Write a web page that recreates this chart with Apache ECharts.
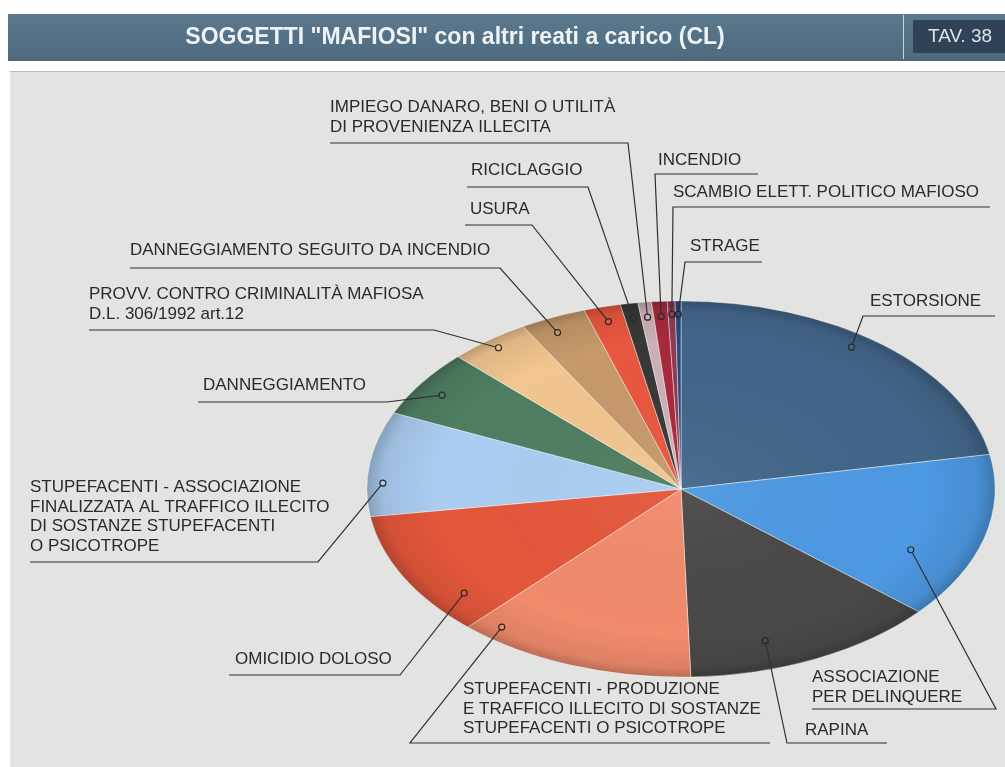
<!DOCTYPE html>
<html><head><meta charset="utf-8">
<script src="https://cdn.jsdelivr.net/npm/echarts@6/dist/echarts.min.js"></script>
<style>html,body{margin:0;padding:0;background:#fff}#c{width:1005px;height:767px}</style>
</head><body><div id="c"></div><script>
// ---- data ----
const titleText = 'SOGGETTI "MAFIOSI" con altri reati a carico (CL)';
const tableText = 'TAV. 38';
const categories = [
  'ESTORSIONE',
  'ASSOCIAZIONE\nPER DELINQUERE',
  'RAPINA',
  'STUPEFACENTI - PRODUZIONE\nE TRAFFICO ILLECITO DI SOSTANZE\nSTUPEFACENTI O PSICOTROPE',
  'OMICIDIO DOLOSO',
  'STUPEFACENTI - ASSOCIAZIONE\nFINALIZZATA AL TRAFFICO ILLECITO\nDI SOSTANZE STUPEFACENTI\nO PSICOTROPE',
  'DANNEGGIAMENTO',
  'PROVV. CONTRO CRIMINALITÀ MAFIOSA\nD.L. 306/1992 art.12',
  'DANNEGGIAMENTO SEGUITO DA INCENDIO',
  'USURA',
  'RICICLAGGIO',
  'IMPIEGO DANARO, BENI O UTILITÀ\nDI PROVENIENZA ILLECITA',
  'INCENDIO',
  'SCAMBIO ELETT. POLITICO MAFIOSO',
  'STRAGE'
];
const values = [221, 143, 132, 124, 108, 90, 58, 42, 34, 19, 9, 7, 8, 4, 3];

// ---- styles / layout ----
const sliceColors = ['#42668a', '#4d99e2', '#4a4948', '#f08b6c', '#e4573b', '#aacdf1', '#4f7e62',
  '#f1c58f', '#c6996a', '#e8573f', '#383838', '#cdb0b6', '#a62a3c', '#8e3b55', '#254a7c'];
// text position (left, top), underline x1..x2 at y, side of elbow, dot position [fraction of slice angle, radius fraction]
const labelLayout = [
  {tx: 870, ty: 292, ux1: 863, ux2: 995, uy: 316, side: 'left',  at: [0.45, 0.93]},
  {tx: 812, ty: 668, ux1: 812, ux2: 996, uy: 709, side: 'right', at: [0.67, 0.80]},
  {tx: 805, ty: 721, ux1: 787, ux2: 887, uy: 743, side: 'left',  at: [0.65, 0.85]},
  {tx: 463, ty: 680, ux1: 410, ux2: 770, uy: 743, side: 'left',  at: [0.89, 0.93]},
  {tx: 235, ty: 650, ux1: 229, ux2: 400, uy: 675, side: 'right', at: [0.22, 0.885]},
  {tx: 30,  ty: 478, ux1: 30,  ux2: 318, uy: 562, side: 'right', at: [0.32, 0.95]},
  {tx: 203, ty: 376, ux1: 198, ux2: 387, uy: 402, side: 'right', at: [0.45, 0.91]},
  {tx: 89,  ty: 285, ux1: 89,  ux2: 434, uy: 330, side: 'right', at: [0.5, 0.95]},
  {tx: 130, ty: 241, ux1: 130, ux2: 500, uy: 268, side: 'right', at: [0.4, 0.92]},
  {tx: 470, ty: 200, ux1: 465, ux2: 532, uy: 225, side: 'right', at: [0.5, 0.92]},
  {tx: 471, ty: 161, ux1: 467, ux2: 588, uy: 187, side: 'right', at: [0.5, 0.92]},
  {tx: 330, ty: 98,  ux1: 330, ux2: 628, uy: 143, side: 'right', at: [0.5, 0.92]},
  {tx: 658, ty: 151, ux1: 655, ux2: 758, uy: 174, side: 'left',  at: [0.5, 0.92]},
  {tx: 673, ty: 183, ux1: 673, ux2: 990, uy: 207, side: 'left',  at: [0.5, 0.93]},
  {tx: 690, ty: 237, ux1: 685, ux2: 762, uy: 262, side: 'left',  at: [0.5, 0.93]}
];

const total = values.reduce((a, b) => a + b, 0);
const starts = [];
values.reduce((acc, v, i) => { starts[i] = acc; return acc + v; }, 0);

const labelFont = '17px "Liberation Sans", Arial, sans-serif';

function renderItem(params, api) {
  const i = params.dataIndex;
  const c = api.coord([0, 0]);
  const ex = api.coord([1, 0])[0] - c[0];
  const ey = c[1] - api.coord([0, 1])[1];
  const a0 = starts[i] / total * 2 * Math.PI;
  const a1 = (starts[i] + api.value(0)) / total * 2 * Math.PI;
  const L = labelLayout[i];
  const am = a0 + (a1 - a0) * L.at[0];
  const dot = api.coord([L.at[1] * Math.sin(am), L.at[1] * Math.cos(am)]);
  const shape = {cx: 0, cy: 0, r0: 0, r: ex, startAngle: a0 - Math.PI / 2, endAngle: a1 - Math.PI / 2, clockwise: true};
  const pts = L.side === 'right'
    ? [[L.ux1, L.uy], [L.ux2, L.uy], dot]
    : [[L.ux2, L.uy], [L.ux1, L.uy], dot];
  return {
    type: 'group',
    children: [
      {
        type: 'group', x: c[0], y: c[1], scaleY: ey / ex,
        children: [
          {type: 'sector', shape: shape,
           style: {fill: sliceColors[i], stroke: 'rgba(255,255,255,0.55)', lineWidth: 1, strokeNoScale: true}},
          {type: 'sector', shape: shape, silent: true,
           style: {fill: new echarts.graphic.RadialGradient(0, 0, ex, [
             {offset: 0, color: 'rgba(255,255,255,0.05)'},
             {offset: 0.78, color: 'rgba(0,0,0,0)'},
             {offset: 0.95, color: 'rgba(0,0,0,0.08)'},
             {offset: 1, color: 'rgba(0,0,0,0.22)'}
           ], true)}}
        ]
      },
      {type: 'polyline', z2: 100, shape: {points: pts},
       style: {stroke: '#303030', lineWidth: 1.2, fill: null}},
      {type: 'circle', z2: 101, shape: {cx: dot[0], cy: dot[1], r: 3},
       style: {fill: sliceColors[i], stroke: '#2a2a2a', lineWidth: 1.2}},
      {type: 'text', z2: 100, x: L.tx, y: L.ty,
       style: {text: categories[i], fill: '#2a2a2a', font: labelFont, lineHeight: 19.5,
               align: 'left', verticalAlign: 'top'}}
    ]
  };
}

const chart = echarts.init(document.getElementById('c'), null, {renderer: 'canvas'});
chart.setOption({
  animation: false,
  backgroundColor: '#ffffff',
  graphic: [
    {type: 'rect', z: -10, shape: {x: 10, y: 71, width: 995, height: 696}, style: {fill: '#e3e3e1'}},
    {type: 'line', z: -9, shape: {x1: 10, y1: 71.5, x2: 1005, y2: 71.5}, style: {stroke: '#b9b9b7', lineWidth: 1}},
    {type: 'rect', z: -8, shape: {x: 8, y: 14, width: 997, height: 47},
     style: {fill: new echarts.graphic.LinearGradient(0, 0, 0, 1, [
       {offset: 0, color: '#5b788d'}, {offset: 1, color: '#4f6a7e'}])}},
    {type: 'line', z: -7, shape: {x1: 903.5, y1: 15, x2: 903.5, y2: 59}, style: {stroke: 'rgba(230,238,245,0.8)', lineWidth: 1}},
    {type: 'rect', z: -7, shape: {x: 913, y: 20, width: 92, height: 33}, style: {fill: '#2f4256'}},
    {type: 'text', z: -6, x: 960, y: 37,
     style: {text: tableText, fill: '#dde5ec', font: '19px "Liberation Sans", Arial, sans-serif', align: 'center', verticalAlign: 'middle'}},
    {type: 'text', z: -6, x: 455, y: 38,
     style: {text: titleText, fill: '#eef3f6', font: 'bold 23px "Liberation Sans", Arial, sans-serif', align: 'center', verticalAlign: 'middle'}}
  ],
  grid: {left: 367, top: 301, width: 628, height: 376},
  xAxis: {type: 'value', min: -1, max: 1, show: false},
  yAxis: {type: 'value', min: -1, max: 1, show: false},
  series: [{
    type: 'custom',
    coordinateSystem: 'cartesian2d',
    clip: false,
    renderItem: renderItem,
    data: values.map((v, i) => ({name: categories[i], value: [v]}))
  }]
});
</script></body></html>
